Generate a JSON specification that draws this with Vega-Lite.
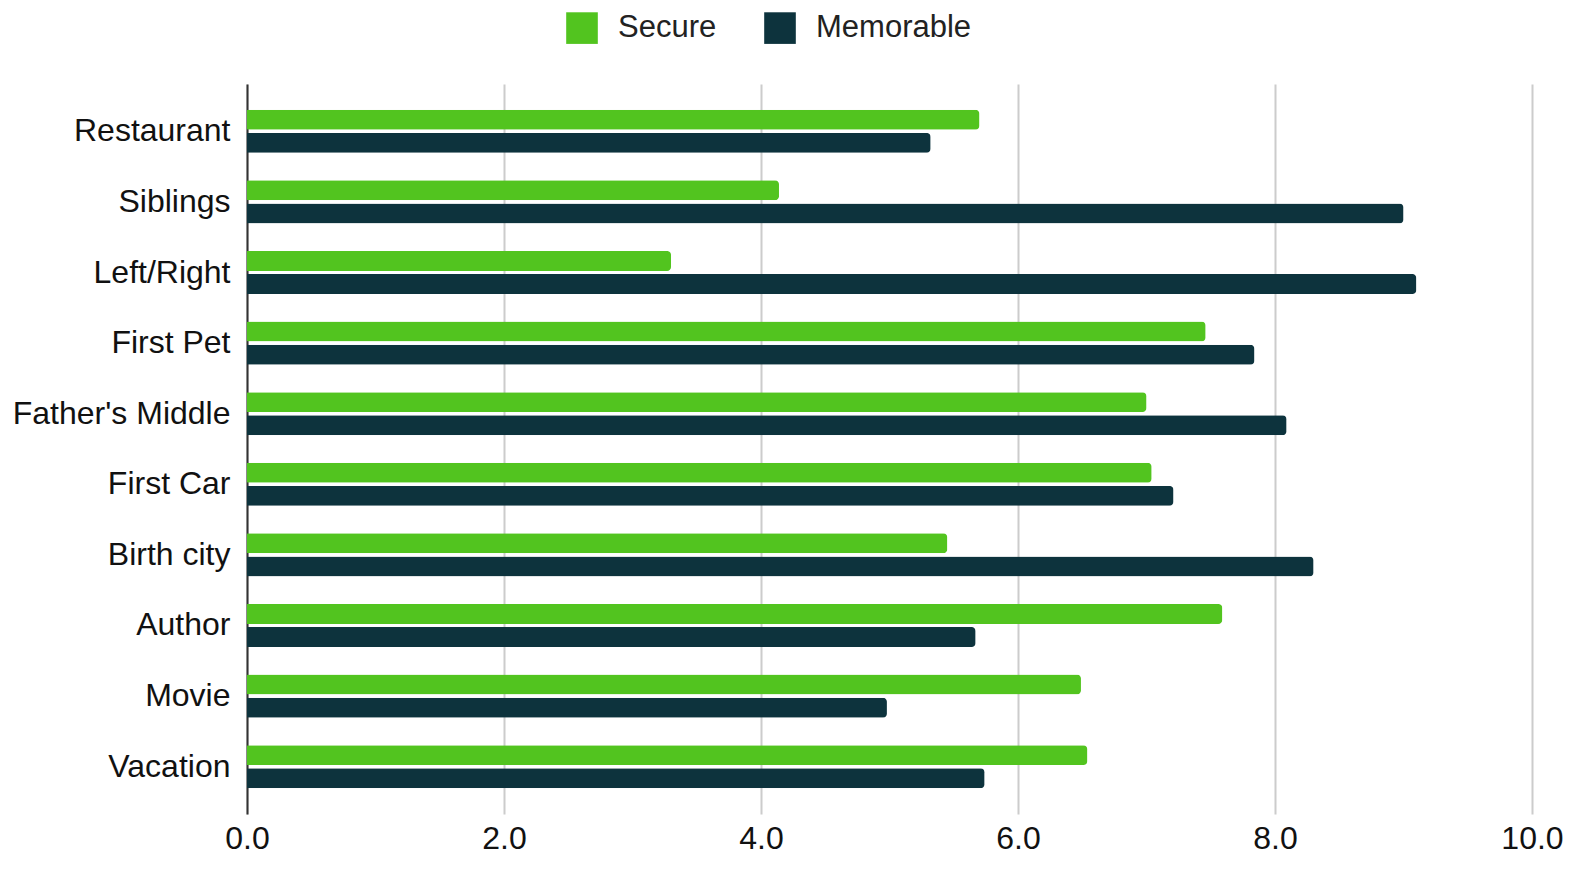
{
  "$schema": "https://vega.github.io/schema/vega-lite/v6.json",
  "width": 1285,
  "height": 730,
  "autosize": {"type": "none"},
  "padding": {"left": 247, "top": 84, "right": 59, "bottom": 55},
  "background": "white",
  "config": {"font": "Liberation Sans", "view": {"stroke": null}},
  "data": {"values": [
    {"q": "Restaurant", "s": "Secure", "v": 5.70}, {"q": "Restaurant", "s": "Memorable", "v": 5.32},
    {"q": "Siblings", "s": "Secure", "v": 4.14}, {"q": "Siblings", "s": "Memorable", "v": 9.00},
    {"q": "Left/Right", "s": "Secure", "v": 3.30}, {"q": "Left/Right", "s": "Memorable", "v": 9.10},
    {"q": "First Pet", "s": "Secure", "v": 7.46}, {"q": "First Pet", "s": "Memorable", "v": 7.84},
    {"q": "Father's Middle", "s": "Secure", "v": 7.00}, {"q": "Father's Middle", "s": "Memorable", "v": 8.09},
    {"q": "First Car", "s": "Secure", "v": 7.04}, {"q": "First Car", "s": "Memorable", "v": 7.21},
    {"q": "Birth city", "s": "Secure", "v": 5.45}, {"q": "Birth city", "s": "Memorable", "v": 8.30},
    {"q": "Author", "s": "Secure", "v": 7.59}, {"q": "Author", "s": "Memorable", "v": 5.67},
    {"q": "Movie", "s": "Secure", "v": 6.49}, {"q": "Movie", "s": "Memorable", "v": 4.98},
    {"q": "Vacation", "s": "Secure", "v": 6.54}, {"q": "Vacation", "s": "Memorable", "v": 5.74}
  ]},
  "mark": {"type": "bar", "cornerRadiusEnd": 4},
  "encoding": {
    "y": {
      "field": "q", "type": "nominal", "sort": null,
      "scale": {"paddingInner": 0.39, "paddingOuter": 0.365},
      "axis": {"title": null, "domainColor": "#333333", "domainWidth": 2, "ticks": false,
               "labelFontSize": 32, "labelColor": "#111111", "labelPadding": 17, "labelFont": "Liberation Sans",
               "labelLimit": 400}
    },
    "yOffset": {"field": "s", "type": "nominal", "scale": {"domain": ["Secure", "Memorable"], "paddingInner": 0.14}},
    "x": {
      "field": "v", "type": "quantitative",
      "scale": {"domain": [0, 10], "nice": false},
      "axis": {"title": null, "values": [0, 2, 4, 6, 8, 10], "format": ".1f", "domain": false, "ticks": false,
               "gridColor": "#cccccc", "gridWidth": 2, "labelFontSize": 32, "labelColor": "#111111",
               "labelPadding": 9, "labelFont": "Liberation Sans", "labelFlush": false}
    },
    "color": {
      "field": "s", "type": "nominal",
      "scale": {"domain": ["Secure", "Memorable"], "range": ["#52c41f", "#0d333d"]},
      "legend": {"title": null, "orient": "none", "direction": "horizontal", "legendX": 319, "legendY": -72,
                 "symbolType": "square", "symbolSize": 1000, "symbolStrokeWidth": 0, "symbolOpacity": 1,
                 "labelFontSize": 31, "labelColor": "#222222", "labelFont": "Liberation Sans",
                 "columnPadding": 47, "labelOffset": 20}
    }
  }
}
